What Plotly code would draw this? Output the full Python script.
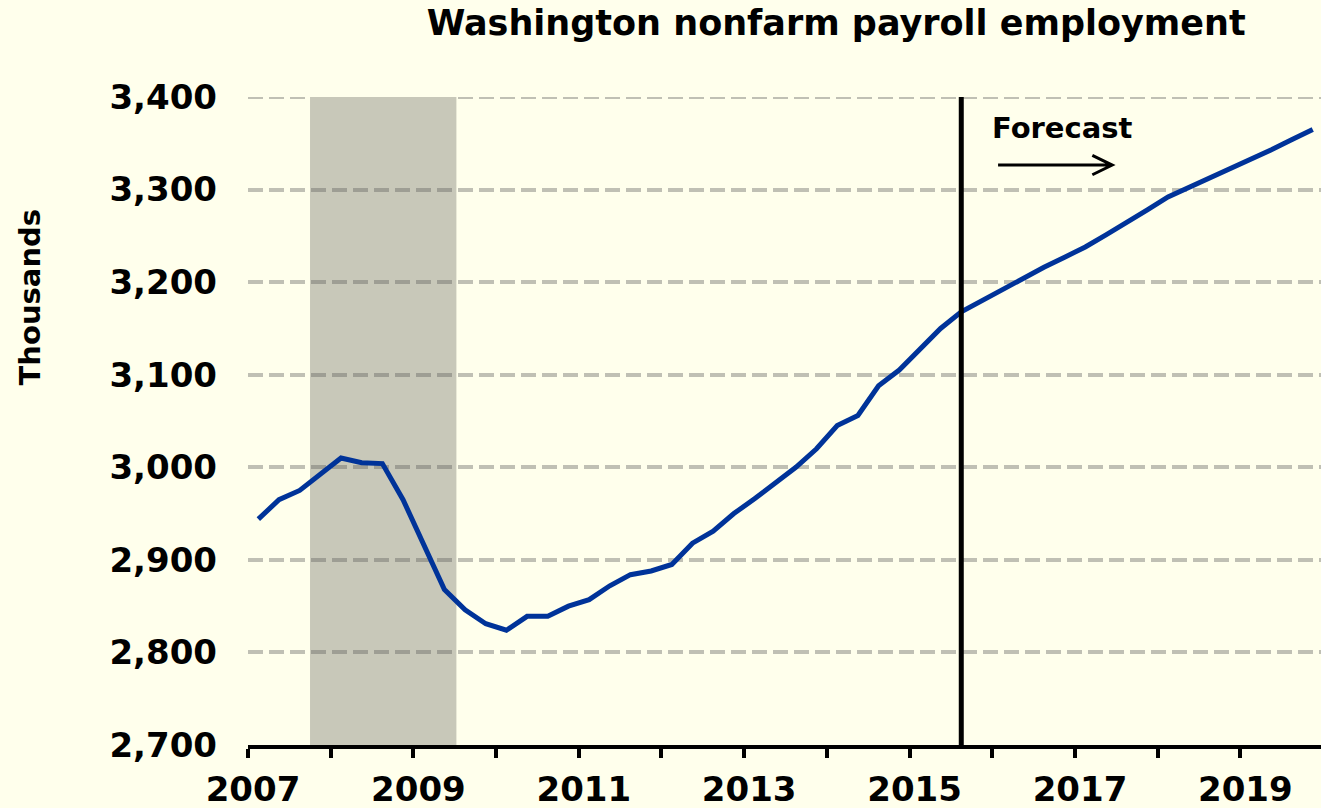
import plotly.graph_objects as go

years = list(range(2007, 2020))
quarters = [y + (q - 0.5) / 4 for y in years for q in range(1, 5)]
employment = [2944, 2965, 2975, 2992, 3010, 3005, 3004, 2965, 2918, 2868,
              2846, 2831, 2824, 2839, 2839, 2850, 2857, 2872, 2884, 2888,
              2895, 2918, 2931, 2950, 2966, 2983, 3000, 3020, 3045, 3056,
              3088, 3105, 3127, 3150, 3168, 3180, 3192, 3205, 3216, 3227,
              3238, 3251, 3264, 3278, 3292, 3302, 3312, 3322, 3333, 3343,
              3354, 3365]
tick_years = list(range(2007, 2020))
tick_text = [str(y) if y % 2 == 1 else "" for y in tick_years]
y_ticks = [2700, 2800, 2900, 3000, 3100, 3200, 3300, 3400]
recession = (2007.75, 2009.52)
forecast_start = 2015.625

font = "DejaVu Sans"
bg = "#FFFFEC"
grid_col = "rgba(89,89,89,0.38)"

fig = go.Figure()
fig.add_trace(go.Scatter(x=quarters, y=employment, mode="lines",
                         line=dict(color="#003399", width=5),
                         showlegend=False, hoverinfo="x+y"))

fig.add_shape(type="rect", xref="x", yref="y", x0=recession[0], x1=recession[1],
              y0=2700, y1=3400, fillcolor="#C8C8B9", line_width=0, layer="below")
# top gridline (at the range edge)
fig.add_shape(type="line", xref="paper", yref="y", x0=0, x1=1, y0=y_ticks[-1], y1=y_ticks[-1],
              line=dict(color=grid_col, width=4, dash="15px,6px"), layer="below")
fig.add_shape(type="line", xref="x", yref="y", x0=forecast_start, x1=forecast_start,
              y0=2698, y1=3400, line=dict(color="black", width=5))

# Forecast label and arrow
fig.add_annotation(x=2015.97, y=3366, xref="x", yref="y", text="<b>Forecast</b>",
                   showarrow=False, xanchor="left", yanchor="middle",
                   font=dict(family=font, size=29, color="black"))
fig.add_shape(type="path", xref="x", yref="y",
              path="M 2016.07,3326.5 L 2017.45,3326.5 M 2017.21,3337 L 2017.45,3326.5 L 2017.21,3316",
              line=dict(color="black", width=3))

# Y axis title placed as in the reference
fig.add_annotation(x=-0.203, y=0.691, xref="paper", yref="paper", text="<b>Thousands</b>",
                   showarrow=False, textangle=-90, xanchor="center", yanchor="middle",
                   font=dict(family=font, size=29, color="black"))

fig.update_layout(
    width=1321, height=808,
    margin=dict(l=248, r=0, t=97, b=63),
    paper_bgcolor=bg, plot_bgcolor=bg,
    title=dict(text="<b>Washington nonfarm payroll employment</b>", x=0.633, xanchor="center",
               y=0.972, yanchor="middle", font=dict(family=font, size=35, color="black")),
    font=dict(family=font, color="black"),
    xaxis=dict(range=[2007, 2019.975], tickvals=tick_years, ticktext=tick_text,
               ticks="outside", ticklen=9, tickwidth=4, tickcolor="black",
               showline=True, linecolor="black", linewidth=4, showgrid=False,
               zeroline=False, ticklabelshift=5, ticklabelstandoff=2, automargin=False,
               tickfont=dict(family=font, size=34, color="black", weight="bold")),
    yaxis=dict(range=[2700, 3400], tickvals=y_ticks, tickformat=",",
               showgrid=True, gridcolor=grid_col, gridwidth=4,
               griddash="15px,6px", zeroline=False, showline=False, ticks="",
               ticklabelstandoff=30, automargin=False,
               tickfont=dict(family=font, size=34, color="black", weight="bold")),
)

fig.write_html("out.html", post_script="document.body.style.margin='0';",
               config={"displayModeBar": False})
